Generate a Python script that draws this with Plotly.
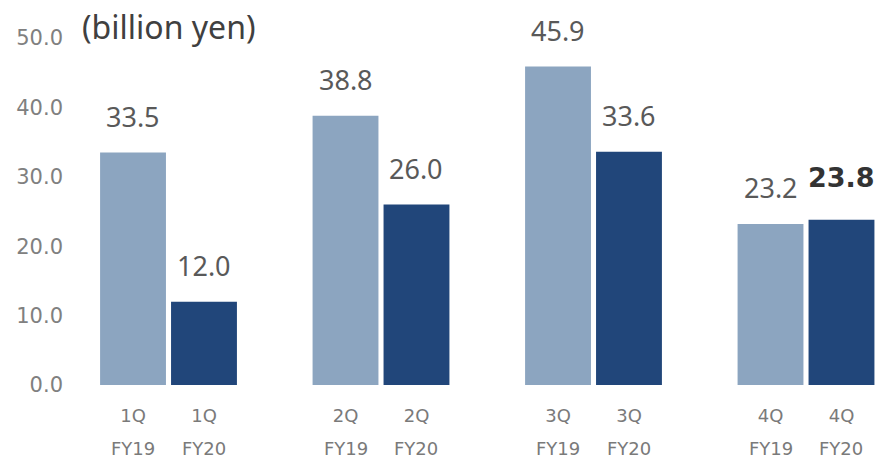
import plotly.graph_objects as go

quarters = ["1Q", "2Q", "3Q", "4Q"]
years = ["FY19", "FY20"]
fy19 = [33.5, 38.8, 45.9, 23.2]
fy20 = [12.0, 26.0, 33.6, 23.8]
y_ticks = [0, 10, 20, 30, 40, 50]
unit_label = "(billion yen)"

colors = ["#8CA5C0", "#21467A"]
series = [fy19, fy20]

FONT = "Noto Sans"
TICKFONT = "DejaVu Sans"
offset = 0.167
width = 0.31

fig = go.Figure()
tickvals, ticktext = [], []
annotations = []
for j, (vals, col, yr) in enumerate(zip(series, colors, years)):
    xs = [i + (j - 0.5) * 2 * offset for i in range(len(quarters))]
    fig.add_trace(go.Bar(x=xs, y=vals, width=width, marker=dict(color=col, line=dict(width=0)),
                         name=yr, showlegend=False, hoverinfo="skip"))
    for i, (x, v) in enumerate(zip(xs, vals)):
        tickvals.append(x)
        ticktext.append(quarters[i])
        bold = (j == 1 and i == len(quarters) - 1)
        if bold:
            font = dict(family="DejaVu Sans", size=27, color="#333333")
            txt = f"<b>{v:.1f}</b>"
            shift = 42
        else:
            font = dict(family=FONT, size=27, color="#595959")
            txt = f"{v:.1f}"
            shift = 36
        annotations.append(dict(
            x=x, y=v, xref="x", yref="y", text=txt,
            showarrow=False, yanchor="middle", yshift=shift, font=font))
        annotations.append(dict(
            x=x, y=-0.183, xref="x", yref="paper", text=yr, showarrow=False, yanchor="middle",
            font=dict(family=TICKFONT, size=18, color="#7a7a7a")))

fig.update_layout(
    width=881, height=460,
    margin=dict(l=70, r=0, t=37.5, b=74.5),
    paper_bgcolor="white", plot_bgcolor="white",
    barmode="overlay",
    xaxis=dict(range=[(70 - 168.5) / 212.5, (881 - 168.5) / 212.5], tickvals=tickvals, ticktext=ticktext,
               showgrid=False, zeroline=False, showline=False, ticks="",
               tickfont=dict(family=TICKFONT, size=18, color="#7a7a7a"), ticklabelstandoff=18),
    yaxis=dict(range=[0, 50], tickvals=y_ticks, tickformat=".1f", showgrid=False, zeroline=False,
               showline=False, ticks="", tickfont=dict(family=TICKFONT, size=21, color="#808080"),
               ticklabelstandoff=6),
    annotations=annotations,
)
fig.add_annotation(x=(80 - 70) / 811, y=1 + (37.5 - 26) / 348, xref="paper", yref="paper",
                   xanchor="left", yanchor="middle", text=unit_label, showarrow=False,
                   font=dict(family=FONT, size=32, color="#404040"))
fig.write_html("out.html")
